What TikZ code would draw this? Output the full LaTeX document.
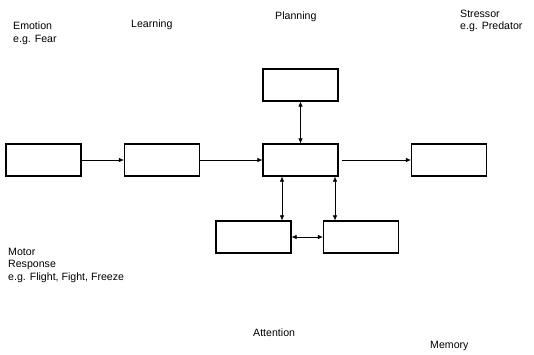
\documentclass[tikz,border=0pt]{standalone}
\usepackage{fontspec}
\setmainfont{Liberation Sans}
\usepackage{tikz}
\usetikzlibrary{positioning,arrows.meta}
\tikzstyle{block} = [rectangle, draw, line width=1.2pt, minimum width=75pt, minimum height=32pt, inner sep=0pt]
\tikzstyle{txt} = [anchor=north west, align=left, inner sep=0pt, font=\fontsize{10.6}{12.7}\selectfont]
\tikzstyle{line} = [draw, line width=0.6pt, -{Latex[length=5pt,width=4.5pt]}]
\tikzstyle{both} = [draw, line width=0.6pt, {Latex[length=5pt,width=4.5pt]}-{Latex[length=5pt,width=4.5pt]}]

\begin{document}
\begin{tikzpicture}[x=1pt, y=-1pt]
	\useasboundingbox (0,0) rectangle (534,354);
	%% Emotion block
	\node[block] at (43.5,160) (emo) {};
	%% Learning block
	\node[block, right of=emo, node distance=118.5pt] (learn) {};
	%% central block
	\node[block, right of=learn, node distance=138.5pt] (core) {};
	%% Planning block
	\node[block, above of=core, node distance=75pt] (plan) {};
	%% Stressor block
	\node[block, right of=core, node distance=148.5pt] (stress) {};
	%% Attention block
	\node[block, below of=core, node distance=77pt, xshift=-47pt] (attn) {};
	%% Memory block
	\node[block, below of=core, node distance=77pt, xshift=60.5pt] (mem) {};
	%% texts
	\node[txt] at (13,21.5) (emotion) {Emotion\\e.g. Fear};
	\node[txt] at (131,19.3) (learning) {Learning};
	\node[txt] at (275,11.5) (planning) {Planning};
	\node[txt] at (460,9.5) (stressor) {Stressor\\e.g. Predator};
	\node[txt] at (8,247.5) (motor) {Motor\\Response\\e.g. Flight, Fight, Freeze};
	\node[txt] at (253,329) (attention) {Attention};
	\node[txt] at (430,341) (memory) {Memory};
	%% edges
	\path[line](emo) -- (learn);
	\path[line](learn) -- (core);
	\path[line, shorten <=3pt](core) -- (stress);
	\path[both](plan) -- (core);
	\path[both]([xshift=-18.5pt]core.south) -- ([xshift=-18.5pt]core.south |- attn.north);
	\path[both]([xshift=34.5pt]core.south) -- ([xshift=34.5pt]core.south |- mem.north);
	\path[both](attn) -- (mem);

\end{tikzpicture}
\end{document}
